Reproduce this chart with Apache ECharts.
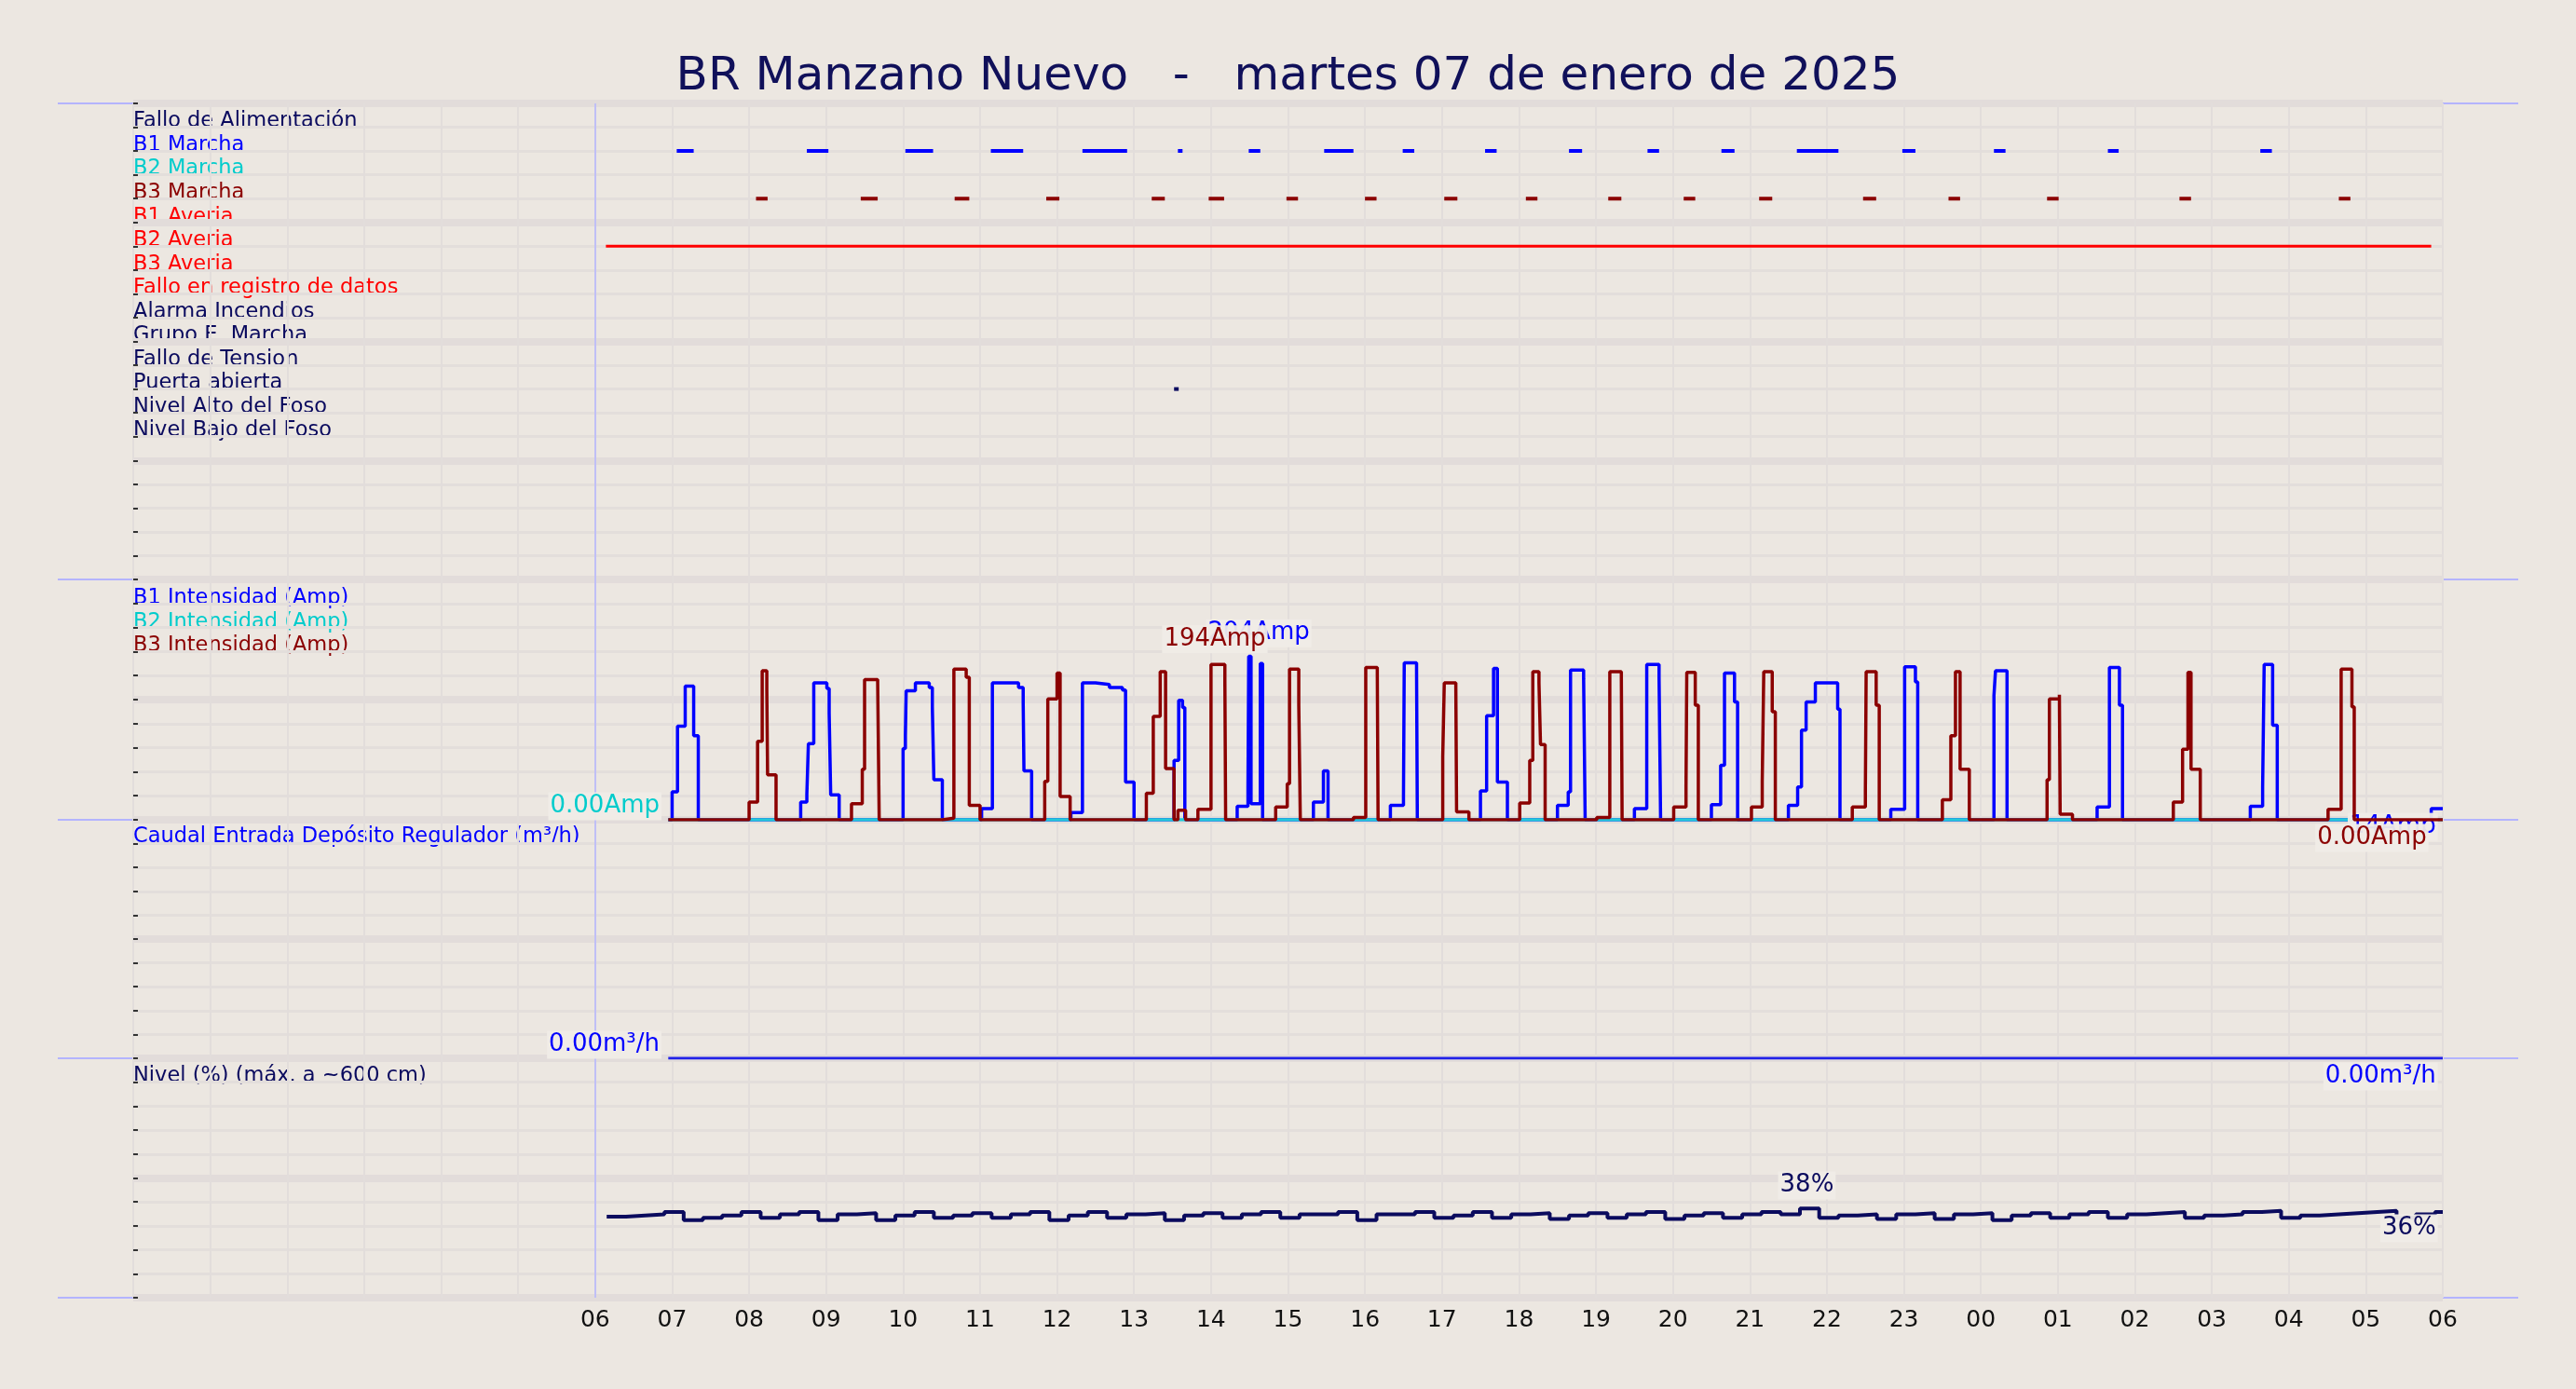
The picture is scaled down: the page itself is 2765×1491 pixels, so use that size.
<!DOCTYPE html>
<html><head><meta charset="utf-8">
<script src="https://cdn.jsdelivr.net/npm/echarts@6/dist/echarts.min.js"></script>
<style>html,body{margin:0;padding:0;background:#ece7e1}#c{width:2765px;height:1491px}</style>
</head><body><div id="c"></div>
<script>
const TITLE = 'BR Manzano Nuevo   -   martes 07 de enero de 2025';
const SIGNAL_LABELS = ['Fallo de Alimentación','B1 Marcha','B2 Marcha','B3 Marcha','B1 Averia','B2 Averia','B3 Averia','Fallo en registro de datos','Alarma Incendios','Grupo E. Marcha','Fallo de Tension','Puerta abierta','Nivel Alto del Foso','Nivel Bajo del Foso'];
const SIGNAL_COLORS = ['#0a0a5e','#0000ff','#00cccc','#8b0000','#ff0000','#ff0000','#ff0000','#ff0000','#0a0a5e','#0a0a5e','#0a0a5e','#0a0a5e','#0a0a5e','#0a0a5e'];
// segments [start hour, end hour]; hours counted from 00:00 of the 7th
const B1_MARCHA = [[7.06,7.28],[8.75,9.03],[10.03,10.39],[11.14,11.56],[12.33,12.91],[13.57,13.63],[14.49,14.64],[15.47,15.85],[16.49,16.64],[17.56,17.71],[18.65,18.82],[19.67,19.82],[20.63,20.80],[21.61,22.15],[22.98,23.15],[24.17,24.32],[25.65,25.79],[27.63,27.78]];
const B3_MARCHA = [[8.09,8.24],[9.45,9.67],[10.67,10.86],[11.86,12.03],[13.23,13.40],[13.97,14.17],[14.98,15.13],[16.00,16.15],[17.03,17.20],[18.09,18.24],[19.16,19.33],[20.14,20.29],[21.12,21.29],[22.47,22.64],[23.58,23.73],[24.86,25.01],[26.58,26.73],[28.65,28.80]];
const B2_AVERIA = [[6.14,29.85]];
const PUERTA = [[13.52,13.58]];
const B1_AMP = [[6.95,0],[7.0,35],[7.07,117],[7.17,167],[7.28,105],[7.34,0],
[8.67,22],[8.75,32],[8.77,95],[8.84,171],[9.01,164],[9.04,133],[9.06,31],[9.17,0],
[10.0,89],[10.03,105],[10.04,161],[10.16,171],[10.34,165],[10.38,141],[10.4,50],[10.51,0],
[11.02,14],[11.16,171],[11.5,165],[11.56,147],[11.57,61],[11.67,0],
[12.18,9],[12.33,171],[12.5,169],[12.68,165],[12.85,162],[12.89,47],[13.0,0],
[13.52,74],[13.58,149],[13.63,140],[13.66,0],
[14.34,17],[14.48,41],[14.49,204],[14.52,20],[14.64,195],[14.67,0],
[15.33,22],[15.46,61],[15.52,0],
[16.33,18],[16.5,29],[16.51,196],[16.67,186],[16.68,0],
[17.5,36],[17.58,130],[17.67,189],[17.72,47],[17.85,0],
[18.5,18],[18.64,35],[18.67,187],[18.84,176],[18.86,0],
[19.5,14],[19.66,194],[19.82,178],[19.84,0],
[20.5,19],[20.62,68],[20.67,183],[20.8,147],[20.84,0],
[21.5,18],[21.62,41],[21.67,112],[21.73,147],[21.85,171],[22.14,138],[22.17,0],
[22.83,13],[23.01,191],[23.15,172],[23.18,0],
[24.17,155],[24.19,186],[24.34,0],
[25.51,16],[25.67,190],[25.8,143],[25.84,0],
[27.5,17],[27.66,41],[27.68,194],[27.79,118],[27.85,0],
[29.85,14],[30,14]];
const B3_AMP = [[6.95,0],[8.0,22],[8.11,98],[8.17,186],[8.23,162],[8.24,56],[8.35,0],
[9.33,20],[9.47,63],[9.5,175],[9.67,171],[9.69,0],
[10.51,2],[10.66,188],[10.82,178],[10.86,18],[11.0,0],
[11.84,48],[11.88,151],[12.0,183],[12.04,29],[12.17,0],
[13.16,33],[13.25,129],[13.34,185],[13.41,64],[13.52,0],[13.57,12],[13.67,0],
[13.83,13],[14.0,194],[14.18,175],[14.19,0],
[14.84,16],[14.99,45],[15.02,188],[15.14,143],[15.16,0],
[15.85,3],[16.01,190],[16.16,182],[16.17,0],
[17.01,79],[17.03,171],[17.18,165],[17.19,10],[17.35,0],
[18.01,21],[18.14,74],[18.18,185],[18.26,171],[18.28,94],[18.34,0],
[19.01,3],[19.18,185],[19.33,178],[19.34,0],
[20.01,16],[20.17,43],[20.18,184],[20.29,143],[20.33,0],
[21.02,16],[21.16,48],[21.18,185],[21.29,135],[21.33,0],
[22.33,16],[22.5,37],[22.51,185],[22.64,143],[22.68,0],
[23.5,25],[23.61,105],[23.67,185],[23.73,63],[23.85,0],
[24.86,50],[24.89,151],[25.02,156],[25.03,7],[25.19,0],
[26.5,22],[26.62,88],[26.69,184],[26.73,63],[26.85,0],
[28.51,13],[28.68,188],[28.82,141],[28.85,0],
[30,0]];
const B2_AMP = [[6.95,0],[30,0]];
const CAUDAL = [[6.95,0],[30,0]];
const LEVEL_START = 6.15, LEVEL_STEP = 0.25;
const LEVEL = [34.5,35,35.5,36.5,33,34,35,36.5,
34,35.5,36.5,33,35.5,36,33,35,
36.5,34,35,36,34,35.5,36.5,33,
35,36.5,34,35.5,36,33,35,36,
34,35.5,36.5,34,35.5,35.5,36.5,33,
35.5,35.5,36.5,34,35,36.5,34,35.5,
36,33.5,35,36,34,35.5,36.5,33.5,
35,36,34,35.5,36.5,35.5,38,34,
35,35.5,33.5,35.5,36,33.5,35.5,36,
33,35,36,34,35.5,36.5,34,35.5,
36,36.5,34,35,35.5,36.5,37,34,
35,35.5,36,36.5,37,34,35.5,36.5];

const chart = echarts.init(document.getElementById('c'));
const L = 143, R = 143;
const PANELS = [{top:111,h:511,min:0,max:20,inv:true,iv:1,thick:5},
  {top:622,h:258,min:0,max:300,inv:false,iv:30,thick:150},
  {top:880,h:256,min:0,max:10,inv:false,iv:1,thick:5},
  {top:1136,h:257,min:0,max:102,inv:false,iv:10.2,thick:51}];
const grid=[],xAxis=[],yAxis=[];
PANELS.forEach((p,i)=>{
  grid.push({left:L,right:R,top:p.top,height:p.h});
  xAxis.push({type:'value',gridIndex:i,min:0,max:30,interval:1,
    axisLine:{show:false},axisTick:{show:false},
    splitLine:{show:true,lineStyle:{color:'#e2dddb',width:2}},
    axisLabel:{show:i===3,fontFamily:'DejaVu Sans',fontSize:25,color:'#111',margin:12,
      formatter:v=>v<6?'':String(v%24).padStart(2,'0')}});
  yAxis.push({type:'value',gridIndex:i,min:p.min,max:p.max,interval:p.iv,inverse:p.inv,position:'right',
    axisLine:{show:false},axisTick:{show:true,length:5,lineStyle:{color:'#333',width:2}},axisLabel:{show:false},
    splitLine:{show:true,lineStyle:{color:'#e3dedb',width:3}}});
  yAxis.push({type:'value',gridIndex:i,min:p.min,max:p.max,interval:p.thick,inverse:p.inv,
    axisLine:{show:false},axisTick:{show:false},axisLabel:{show:false},
    splitLine:{show:true,lineStyle:{color:'#e2dcda',width:8}}});
});
function segs(arr,row){const d=[];arr.forEach(([s,e])=>{d.push([s,row],[e,row],[e,'-']);});return d;}
const vline={silent:true,symbol:'none',label:{show:false},lineStyle:{color:'#b4b4ff',width:1.5,type:'solid'},data:[{xAxis:6}]};
const lblBg='rgba(240,236,231,0.95)';
function mp(coord,text,color,pos,offset){return {coord,label:{show:true,formatter:text,color,fontSize:26,fontFamily:'DejaVu Sans',position:pos,offset:offset||[0,0],backgroundColor:lblBg,padding:[2,2]}};}
const levelData = LEVEL.map((v,i)=>[LEVEL_START+i*LEVEL_STEP,v]);
levelData.push([30,LEVEL[LEVEL.length-1]]);
const series=[
 {type:'line',xAxisIndex:0,yAxisIndex:0,data:segs(B1_MARCHA,2),symbol:'none',lineStyle:{color:'#0000ff',width:4},markLine:vline},
 {type:'line',xAxisIndex:0,yAxisIndex:0,data:segs(B3_MARCHA,4),symbol:'none',lineStyle:{color:'#8b0000',width:4}},
 {type:'line',xAxisIndex:0,yAxisIndex:0,data:segs(B2_AVERIA,6),symbol:'none',lineStyle:{color:'#ff0000',width:3}},
 {type:'line',xAxisIndex:0,yAxisIndex:0,data:segs(PUERTA,12),symbol:'none',lineStyle:{color:'#0a0a5e',width:4}},
 {type:'line',xAxisIndex:1,yAxisIndex:2,data:B1_AMP,step:'end',symbol:'none',lineStyle:{color:'#0000ff',width:3.5},z:3,markLine:vline,
   markPoint:{symbolSize:1,itemStyle:{color:'transparent'},data:[mp([14.62,204],'204Amp','#0000ff','top',[0,-4]),mp([30,14],'14Amp','#0000ff','left',[0,20])]}},
 {type:'line',xAxisIndex:1,yAxisIndex:2,data:B2_AMP,symbol:'none',lineStyle:{color:'#22c8d8',width:3.5},z:4,
   markPoint:{symbolSize:1,itemStyle:{color:'transparent'},data:[mp([6.95,0],'0.00Amp','#00cccc','left',[-2,-14])]}},
 {type:'line',xAxisIndex:1,yAxisIndex:2,data:B3_AMP,step:'end',symbol:'none',lineStyle:{color:'#8b0000',width:3.5},z:5,
   markPoint:{symbolSize:1,itemStyle:{color:'transparent'},data:[mp([14.05,194],'194Amp','#8b0000','top',[0,-6]),mp([30,0],'0.00Amp','#8b0000','left',[-10,20])]}},
 {type:'line',xAxisIndex:2,yAxisIndex:4,data:CAUDAL,symbol:'none',lineStyle:{color:'#2222e8',width:3},markLine:vline,
   markPoint:{symbolSize:1,itemStyle:{color:'transparent'},data:[mp([6.95,0],'0.00m³/h','#0000ff','left',[-2,-14]),mp([30,0],'0.00m³/h','#0000ff','left',[0,20])]}},
 {type:'line',xAxisIndex:3,yAxisIndex:6,data:levelData,step:'end',symbol:'none',lineStyle:{color:'#0b0b5e',width:4},markLine:vline,
   markPoint:{symbolSize:1,itemStyle:{color:'transparent'},data:[mp([21.74,38],'38%','#0b0b5e','top',[0,-4]),mp([30,36.5],'36%','#0b0b5e','left',[0,18])]}}
];
const graphic=[];
[111,622,880,1136,1393].forEach(y=>graphic.push({type:'line',shape:{x1:62,y1:y,x2:2703,y2:y},style:{stroke:'#b4b4ff',lineWidth:2},silent:true}));
SIGNAL_LABELS.forEach((t,i)=>graphic.push({type:'text',left:143,top:119+25.55*i,style:{text:t,fill:SIGNAL_COLORS[i],font:'22.5px "DejaVu Sans"'}}));
[['B1 Intensidad (Amp)','#0000ff',631],['B2 Intensidad (Amp)','#00cccc',657],['B3 Intensidad (Amp)','#8b0000',682],
 ['Caudal Entrada Depósito Regulador (m³/h)','#0000ff',887],['Nivel (%) (máx. a ~600 cm)','#0a0a5e',1144]].forEach(([t,c,y])=>
  graphic.push({type:'text',left:143,top:y,style:{text:t,fill:c,font:'22.5px "DejaVu Sans"'}}));
chart.setOption({backgroundColor:'#ece7e1',animation:false,
  title:{text:TITLE,left:'center',top:53,textStyle:{fontFamily:'DejaVu Sans',fontSize:50,fontWeight:'normal',color:'#10105a'}},
  grid,xAxis,yAxis,series,graphic});
</script></body></html>
